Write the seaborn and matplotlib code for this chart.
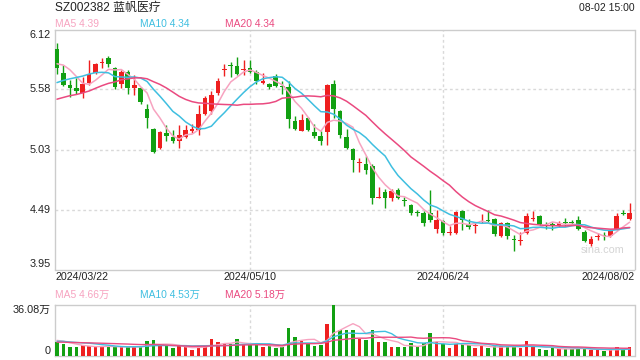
import matplotlib
matplotlib.use("Agg")
import matplotlib.pyplot as plt
import matplotlib.transforms as mtrans
import numpy as np
import pandas as pd
import seaborn as sns

# ---------------- data ----------------
title = "SZ002382 蓝帆医疗"
stamp = "08-02 15:00"

opens = [5.94, 5.73, 5.62, 5.59, 5.55, 5.64, 5.73, 5.82, 5.86, 5.77,
         5.63, 5.74, 5.59, 5.59, 5.40, 5.22, 5.05, 5.18, 5.15, 5.11,
         5.15, 5.20, 5.21, 5.36, 5.38, 5.55, 5.75, 5.80, 5.79, 5.75,
         5.77, 5.74, 5.64, 5.63, 5.70, 5.61, 5.60, 5.29, 5.20, 5.32,
         5.19, 5.16, 5.19, 5.63, 5.38, 5.15, 5.04, 4.91, 4.90, 4.89,
         4.60, 4.65, 4.60, 4.67, 4.58, 4.53, 4.47, 4.46, 4.46, 4.32,
         4.39, 4.28, 4.28, 4.48, 4.36, 4.34, 4.38, 4.40, 4.41, 4.25,
         4.37, 4.23, 4.21, 4.28, 4.41, 4.43, 4.35, 4.36, 4.34, 4.38,
         4.38, 4.40, 4.29, 4.18, 4.24, 4.26, 4.25, 4.32, 4.46, 4.41]
closes = [5.77, 5.62, 5.59, 5.56, 5.63, 5.72, 5.81, 5.83, 5.81, 5.60,
          5.74, 5.59, 5.62, 5.46, 5.32, 5.01, 5.19, 5.16, 5.11, 5.17,
          5.21, 5.22, 5.36, 5.50, 5.53, 5.65, 5.76, 5.79, 5.72, 5.76,
          5.74, 5.65, 5.65, 5.60, 5.61, 5.60, 5.31, 5.22, 5.30, 5.21,
          5.16, 5.11, 5.62, 5.40, 5.17, 5.05, 4.94, 4.92, 4.85, 4.60,
          4.61, 4.60, 4.66, 4.60, 4.57, 4.46, 4.46, 4.37, 4.40, 4.40,
          4.28, 4.29, 4.47, 4.40, 4.33, 4.35, 4.39, 4.39, 4.27, 4.37,
          4.25, 4.22, 4.22, 4.43, 4.42, 4.36, 4.34, 4.35, 4.37, 4.37,
          4.37, 4.32, 4.21, 4.23, 4.25, 4.25, 4.30, 4.43, 4.45, 4.46]
highs = [6.00, 5.80, 5.66, 5.68, 5.69, 5.84, 5.82, 5.86, 5.88, 5.78,
         5.75, 5.75, 5.71, 5.60, 5.45, 5.23, 5.20, 5.26, 5.21, 5.26,
         5.26, 5.27, 5.44, 5.52, 5.56, 5.68, 5.81, 5.83, 5.87, 5.84,
         5.84, 5.75, 5.73, 5.64, 5.72, 5.65, 5.65, 5.34, 5.36, 5.33,
         5.27, 5.20, 5.63, 5.66, 5.39, 5.22, 5.05, 4.96, 4.98, 4.90,
         4.70, 4.68, 4.68, 4.69, 4.61, 4.54, 4.49, 4.48, 4.67, 4.49,
         4.40, 4.34, 4.48, 4.49, 4.41, 4.38, 4.45, 4.49, 4.42, 4.38,
         4.38, 4.26, 4.29, 4.46, 4.48, 4.44, 4.38, 4.38, 4.39, 4.42,
         4.40, 4.43, 4.31, 4.25, 4.28, 4.29, 4.31, 4.46, 4.49, 4.55]
lows = [5.72, 5.61, 5.51, 5.54, 5.50, 5.62, 5.72, 5.77, 5.78, 5.58,
        5.59, 5.54, 5.53, 5.45, 5.23, 5.00, 5.04, 5.11, 5.09, 5.05,
        5.14, 5.18, 5.17, 5.35, 5.36, 5.53, 5.70, 5.69, 5.71, 5.71,
        5.73, 5.63, 5.63, 5.58, 5.60, 5.54, 5.23, 5.21, 5.20, 5.20,
        5.14, 5.08, 5.08, 5.32, 5.14, 5.04, 4.83, 4.83, 4.81, 4.54,
        4.60, 4.51, 4.57, 4.59, 4.52, 4.44, 4.43, 4.34, 4.38, 4.28,
        4.26, 4.26, 4.27, 4.31, 4.32, 4.28, 4.37, 4.38, 4.25, 4.24,
        4.23, 4.12, 4.17, 4.27, 4.39, 4.35, 4.32, 4.31, 4.33, 4.34,
        4.35, 4.31, 4.20, 4.16, 4.22, 4.22, 4.24, 4.31, 4.44, 4.40]
# volume in 万
volumes = [9.5, 7.8, 5.7, 5.7, 7.1, 7.0, 5.9, 5.9, 6.4, 6.4,
           5.9, 5.9, 5.9, 6.2, 10.2, 10.9, 6.6, 6.4, 5.2, 7.0,
           5.7, 3.6, 7.0, 6.4, 11.6, 9.5, 7.8, 7.8, 11.4, 7.8,
           7.3, 7.3, 5.9, 6.4, 5.2, 5.9, 19.4, 13.0, 10.2, 8.0,
           6.6, 7.1, 22.1, 35.6, 18.3, 18.3, 18.3, 11.4, 10.7, 17.8,
           9.2, 9.2, 5.7, 5.7, 5.7, 8.5, 6.4, 8.8, 15.7, 9.5,
           7.8, 5.2, 8.3, 8.8, 7.1, 5.2, 6.4, 5.2, 6.4, 6.4,
           6.4, 6.4, 5.5, 10.0, 5.9, 4.3, 3.8, 5.2, 5.2, 4.7,
           4.4, 5.1, 5.0, 3.6, 3.7, 3.5, 3.7, 5.9, 4.3, 5.9]
# sessions before the visible window (feed the moving averages only)
prior_closes = [5.30, 5.28, 5.35, 5.33, 5.38, 5.31, 5.36, 5.40, 5.34, 5.35,
                5.42, 5.45, 5.44, 5.50, 5.54, 5.68, 5.80, 5.86, 5.94]
prior_volumes = [8.0, 8.6, 7.9, 9.4, 8.8, 9.1, 8.2, 9.6, 8.9, 9.3,
                 8.7, 9.8, 9.2, 10.1, 9.5, 10.6, 11.2, 10.4, 11.8]

price_ticks = [6.12, 5.58, 5.03, 4.49, 3.95]
price_tick_labels = ["6.12", "5.58", "5.03", "4.49", "3.95"]
vol_max = 36.08
vol_tick_labels = ["36.08万", "0"]
date_index = [0, 30, 60, 89]
date_labels = ["2024/03/22", "2024/05/10", "2024/06/24", "2024/08/02"]
ma_periods = [5, 10, 20]
ma_labels = ["MA5 4.39", "MA10 4.34", "MA20 4.34"]
vol_ma_labels = ["MA5 4.66万", "MA10 4.53万", "MA20 5.18万"]

# ---------------- style ----------------
sns.set_style("white")
plt.rcParams["font.family"] = ["Liberation Sans", "Noto Sans CJK SC", "DejaVu Sans"]

RED = "#ee1f1f"
GREEN = "#12a012"
MA_COLORS = ["#f7a3c0", "#3fbfe0", "#ea4a80"]
GRID = "#d9d9d9"
FRAME = "#cccccc"
TXT = "#222222"

n = len(closes)
idx = np.arange(n)
o = np.array(opens)
c = np.array(closes)
h = np.array(highs)
l = np.array(lows)
up = c >= o
colors = np.where(up, RED, GREEN)

full_close = pd.Series(prior_closes + closes)
full_vol = pd.Series(prior_volumes + volumes)
k0 = len(prior_closes)
ma_price = {p: full_close.rolling(p).mean().to_numpy()[k0:] for p in ma_periods}
ma_vol = {p: full_vol.rolling(p).mean().to_numpy()[k0:] for p in ma_periods}

W, H = 640, 360
fig = plt.figure(figsize=(6.4, 3.6), dpi=100)


def box(left, top, right, bottom):
    return [left / W, 1 - bottom / H, (right - left) / W, (bottom - top) / H]


ax = fig.add_axes(box(55, 29.5, 634.5, 269.5))
axv = fig.add_axes(box(55, 304.5, 634.5, 355.5))

# candles
ax.vlines(idx, l, h, colors=colors, linewidth=1, zorder=2)
body_low = np.minimum(o, c)
body_h = np.maximum(np.abs(c - o), 0.008)
ax.bar(idx, body_h, bottom=body_low, width=0.72, color=colors, linewidth=0, zorder=3)

for p, col in zip(ma_periods, MA_COLORS):
    sns.lineplot(x=idx, y=ma_price[p], ax=ax, color=col, linewidth=1.1, zorder=4)

# volume
vdf = pd.DataFrame({"idx": idx, "vol": volumes, "dir": np.where(up, "up", "down")})
sns.barplot(data=vdf, x="idx", y="vol", hue="dir", palette={"up": RED, "down": GREEN},
            dodge=False, native_scale=True, width=0.55, errorbar=None, legend=False,
            saturation=1, linewidth=0, ax=axv, zorder=3)
for p, col in zip(ma_periods, MA_COLORS):
    sns.lineplot(x=idx, y=ma_vol[p], ax=axv, color=col, linewidth=1.0, zorder=4)

for a in (ax, axv):
    a.set_xlim(-0.31, 89.75)
    a.set_xticks([])
    a.set_yticks([])
    a.set_xlabel("")
    a.set_ylabel("")
    for s in a.spines.values():
        s.set_color(FRAME)
        s.set_linewidth(1)
    for i in date_index[1:-1]:
        a.axvline(i, color=GRID, lw=1, ls=(0, (2, 2)), zorder=1)
ax.set_ylim(price_ticks[-1], price_ticks[0])
axv.set_ylim(0, vol_max)

for v in price_ticks[1:-1]:
    ax.axhline(v, color=GRID, lw=1, ls=(0, (2, 2)), zorder=1)

# y tick labels
tr = mtrans.blended_transform_factory(ax.transAxes, ax.transData)
last = len(price_ticks) - 1
for j, (v, lab) in enumerate(zip(price_ticks, price_tick_labels)):
    va = "top" if j == 0 else ("bottom" if j == last else "center")
    ax.text(-0.007, v, lab, transform=tr, ha="right", va=va, fontsize=7.8, color=TXT)
trv = mtrans.blended_transform_factory(axv.transAxes, axv.transData)
axv.text(-0.007, vol_max, vol_tick_labels[0], transform=trv, ha="right", va="top",
         fontsize=7.8, color=TXT)
axv.text(-0.007, 0, vol_tick_labels[1], transform=trv, ha="right", va="bottom",
         fontsize=7.8, color=TXT)

# x date labels
trx = mtrans.blended_transform_factory(ax.transData, ax.transAxes)
for j, (i, lab) in enumerate(zip(date_index, date_labels)):
    ha = "left" if j == 0 else ("right" if j == len(date_index) - 1 else "center")
    xpos = ax.get_xlim()[0] if j == 0 else (ax.get_xlim()[1] if j == len(date_index) - 1 else i)
    ax.text(xpos, -0.031, lab, transform=trx, ha=ha, va="center", fontsize=7.7, color=TXT)

# header and legends
fig.text(55 / W, 1 - 8 / H, title, ha="left", va="center", fontsize=8.6, color=TXT)
fig.text(635 / W, 1 - 8 / H, stamp, ha="right", va="center", fontsize=7.5, color=TXT)
for xpx, lab, col in zip((55, 140, 225), ma_labels, MA_COLORS):
    fig.text(xpx / W, 1 - 24 / H, lab, ha="left", va="center", fontsize=7.4, color=col)
for xpx, lab, col in zip((55, 140, 225), vol_ma_labels, MA_COLORS):
    fig.text(xpx / W, 1 - 294.5 / H, lab, ha="left", va="center", fontsize=7.4, color=col)

ax.text(0.945, 0.082, "sina.com", transform=ax.transAxes, ha="center", va="center",
        fontsize=7.8, color="#d4d4d4", zorder=0)

fig.savefig("out.png", dpi=100)
